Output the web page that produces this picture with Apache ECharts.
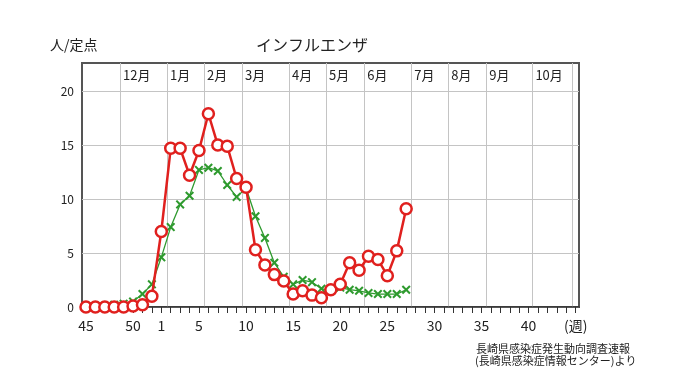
<!DOCTYPE html>
<html><head><meta charset="utf-8">
<script src="https://cdn.jsdelivr.net/npm/echarts@6/dist/echarts.min.js"></script>
<style>html,body{margin:0;padding:0;background:#fff}#c{width:680px;height:382px}</style>
</head><body><div id="c"></div>
<script>
// Season weeks shown on the axis (week 45 .. week 44 of next year)
const axisWeeks = [45,46,47,48,49,50,51,52,1,2,3,4,5,6,7,8,9,10,11,12,13,14,15,16,17,18,19,20,21,22,23,24,25,26,27,28,29,30,31,32,33,34,35,36,37,38,39,40,41,42,43,44];
const labeledWeeks = [45,50,1,5,10,15,20,25,30,35,40];
const unitLabel = '(週)';
// Current season (人/定点), weeks 45 .. 27
const currentSeason = [0,0,0,0,0,0.1,0.2,1.0,7.0,14.7,14.7,12.2,14.5,17.9,15.0,14.9,11.9,11.1,5.3,3.9,3.0,2.4,1.2,1.5,1.1,0.85,1.6,2.1,4.1,3.4,4.7,4.4,2.9,5.2,9.1];
// Average (green x), weeks 45 .. 27
const averageSeason = [0.1,0.1,0.1,0.2,0.3,0.5,1.2,2.1,4.6,7.4,9.5,10.3,12.7,12.9,12.6,11.3,10.2,11.0,8.4,6.4,4.1,2.8,2.1,2.5,2.3,1.7,1.5,1.8,1.6,1.5,1.3,1.2,1.2,1.2,1.6];
// Month boundaries (in week-index units) and month names
const monthNames = ['12月','1月','2月','3月','4月','5月','6月','7月','8月','9月','10月',''];
const monthPos = [3.61,8.61,12.54,16.58,21.57,25.5,29.54,34.54,38.47,42.51,47.4,51.6];
const yTicks = [0,5,10,15,20];

const labelPos = labeledWeeks.map(w => axisWeeks.indexOf(w));
labelPos.push(axisWeeks.length);
const labelText = labeledWeeks.map(String).concat([unitLabel]);
const tickPos = [];
for (let i = 0; i <= axisWeeks.length; i++) tickPos.push(i);

const XMIN = -0.42, XMAX = 52.35;
const FONT = '"Noto Sans CJK JP", "Noto Sans", sans-serif';

const chart = echarts.init(document.getElementById('c'));
chart.setOption({
  animation: false,
  backgroundColor: '#fff',
  textStyle: { fontFamily: FONT },
  grid: { left: 82, right: 101, top: 63, bottom: 75, show: true, borderColor: '#555', borderWidth: 2 },
  xAxis: [
    {
      type: 'value', position: 'bottom', min: XMIN, max: XMAX,
      axisLine: { show: true, onZero: false, lineStyle: { color: '#333', width: 1.5 } },
      axisTick: { show: true, customValues: tickPos, length: 6, lineStyle: { color: '#333', width: 1 } },
      axisLabel: {
        customValues: labelPos, fontSize: 14, color: '#222', margin: 12,
        formatter: v => labelText[labelPos.indexOf(Math.round(v))] || ''
      },
      splitLine: { show: false }
    },
    {
      type: 'value', position: 'top', min: XMIN, max: XMAX,
      axisLine: { show: false },
      axisTick: { show: false, customValues: monthPos },
      axisLabel: {
        inside: true, customValues: monthPos.slice(0, 11), fontSize: 13, color: '#222',
        margin: 6, align: 'left', padding: [0, 0, 0, 3],
        formatter: v => monthNames[monthPos.indexOf(v)]
      },
      splitLine: { show: true, lineStyle: { color: '#c4c4c4', width: 1 } }
    }
  ],
  yAxis: {
    type: 'value', min: 0, max: 22.6,
    axisLine: { show: false },
    axisTick: { show: false, customValues: yTicks },
    axisLabel: { customValues: yTicks, fontSize: 12, color: '#222', margin: 8 },
    splitLine: { show: true, lineStyle: { color: '#c4c4c4', width: 1 } }
  },
  series: [
    {
      type: 'line', xAxisIndex: 0, z: 2, clip: false,
      data: averageSeason.map((v, i) => [i, v]),
      symbol: 'path://M0,1.6 L1.6,0 L5,3.4 L8.4,0 L10,1.6 L6.6,5 L10,8.4 L8.4,10 L5,6.6 L1.6,10 L0,8.4 L3.4,5 Z',
      symbolSize: 9, showAllSymbol: true,
      itemStyle: { color: '#2e9a2e' },
      lineStyle: { color: '#2e9a2e', width: 1.3 }
    },
    {
      type: 'line', xAxisIndex: 0, z: 3, clip: false,
      data: currentSeason.map((v, i) => [i, v]),
      symbol: 'circle', symbolSize: 11, showAllSymbol: true,
      itemStyle: { color: '#fff', borderColor: '#e0201e', borderWidth: 2.5 },
      lineStyle: { color: '#e0201e', width: 2.5 }
    }
  ],
  graphic: [
    { type: 'text', x: 312, y: 45, style: { text: 'インフルエンザ', font: '16px ' + FONT, fill: '#222', align: 'center', verticalAlign: 'middle', textAlign: 'center', textVerticalAlign: 'middle' } },
    { type: 'text', x: 50, y: 45, style: { text: '人/定点', font: '14px ' + FONT, fill: '#222', align: 'left', verticalAlign: 'middle', textAlign: 'left', textVerticalAlign: 'middle' } },
    { type: 'text', x: 476, y: 349, style: { text: '長崎県感染症発生動向調査速報', font: '11px ' + FONT, fill: '#222', align: 'left', verticalAlign: 'middle', textAlign: 'left', textVerticalAlign: 'middle' } },
    { type: 'text', x: 475, y: 361, style: { text: '(長崎県感染症情報センター)より', font: '11px ' + FONT, fill: '#222', align: 'left', verticalAlign: 'middle', textAlign: 'left', textVerticalAlign: 'middle' } }
  ]
});
</script>
</body></html>
